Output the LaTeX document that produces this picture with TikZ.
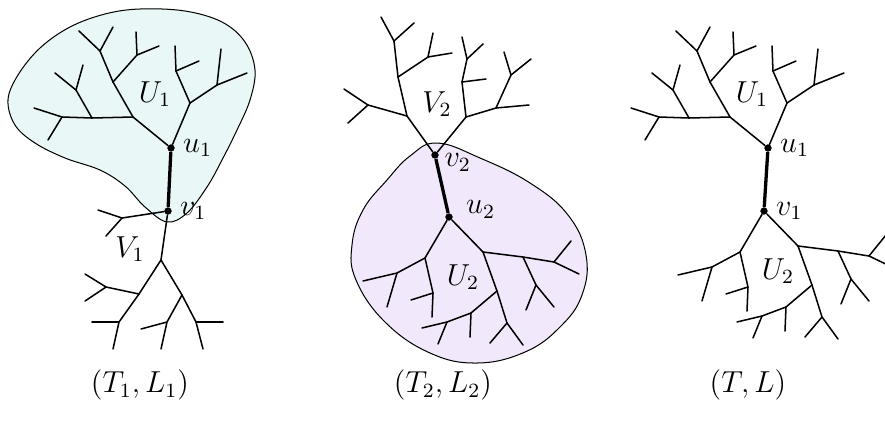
\documentclass[tikz,border=0pt]{standalone}
\usetikzlibrary{positioning}
\definecolor{blobcyan}{RGB}{233,248,247}
\definecolor{blobviolet}{RGB}{241,233,251}
\tikzset{
    branch/.style={semithick, line cap=round, line join=round},
    bridge/.style={line width=1.3pt},
    vertexdot/.style={circle, fill, inner sep=0pt, minimum size=2.8pt},
    vlabel/.style={inner sep=1pt, font=\large},
    partlabel/.style={inner sep=0pt, font=\large},
    caption/.style={font=\large},
    blob/.style={draw, thin},
}
% subtree U_1, hanging above its root #1 (use inside a scope shifted to #1)
\newcommand{\subtreeUone}[1]{
    \coordinate (#1a) at (-38,-31);  \coordinate (#1b) at (-79,-30);
    \coordinate (#1c) at (-109,-31); \coordinate (#1c1) at (-137,-40);
    \coordinate (#1c2) at (-123,-8); \coordinate (#1d) at (-95,-58);
    \coordinate (#1d1) at (-116,-75); \coordinate (#1d2) at (-88,-83);
    \coordinate (#1e) at (-58,-66);  \coordinate (#1f) at (-71,-97);
    \coordinate (#1f1) at (-92,-117); \coordinate (#1f2) at (-58,-121);
    \coordinate (#1g) at (-34,-93);  \coordinate (#1g1) at (-35,-116);
    \coordinate (#1g2) at (-12,-102); \coordinate (#1h) at (19,-45);
    \coordinate (#1i) at (5,-77);    \coordinate (#1i1) at (4,-102);
    \coordinate (#1i2) at (28,-87);  \coordinate (#1j) at (46,-63);
    \coordinate (#1j1) at (50,-99);  \coordinate (#1j2) at (76,-75);
    \draw[branch] (#1) -- (#1a);
    \draw[branch] (#1) -- (#1h);
    \foreach \p/\q in {a/b, b/c, c/c1, c/c2, b/d, d/d1, d/d2, a/e, e/f, f/f1, f/f2,
                       e/g, g/g1, g/g2, h/i, i/i1, i/i2, h/j, j/j1, j/j2}
        \draw[branch] (#1\p) -- (#1\q);
    \node[partlabel] (#1lab) at (-16,-54) {$U_1$};
}
% subtree U_2, hanging below its root #1
\newcommand{\subtreeUtwo}[1]{
    \coordinate (#1a) at (-24,41);   \coordinate (#1b) at (-52,56);
    \coordinate (#1b1) at (-86,64);  \coordinate (#1b2) at (-62,90);
    \coordinate (#1c) at (-16,76);   \coordinate (#1c1) at (-38,83);
    \coordinate (#1c2) at (-17,100); \coordinate (#1d) at (34,35);
    \coordinate (#1e) at (74,40);    \coordinate (#1f) at (105,45);
    \coordinate (#1f1) at (122,24);  \coordinate (#1f2) at (130,57);
    \coordinate (#1g) at (87,68);    \coordinate (#1g1) at (77,93);
    \coordinate (#1g2) at (105,90);  \coordinate (#1h) at (48,74);
    \coordinate (#1i) at (22,96);    \coordinate (#1i1) at (21,120);
    \coordinate (#1k) at (-2,105);   \coordinate (#1k1) at (-27,111);
    \coordinate (#1k2) at (-11,127); \coordinate (#1m) at (58,106);
    \coordinate (#1m1) at (41,126);  \coordinate (#1m2) at (74,128);
    \draw[branch] (#1) -- (#1a);
    \draw[branch] (#1) -- (#1d);
    \foreach \p/\q in {a/b, b/b1, b/b2, a/c, c/c1, c/c2, d/e, e/f, f/f1, f/f2,
                       e/g, g/g1, g/g2, d/h, h/i, i/i1, i/k, k/k1, k/k2, h/m, m/m1, m/m2}
        \draw[branch] (#1\p) -- (#1\q);
    \node[partlabel] (#1lab) at (14,60) {$U_2$};
}

\begin{document}
\begin{tikzpicture}[x=0.0139cm, y=-0.0139cm]
    \useasboundingbox (0,0) rectangle (885,421);

    % === (T_1, L_1) ===
    \draw[blob, fill=blobcyan] plot[smooth cycle, tension=0.6] coordinates {
        (140,9) (105,14) (70,27) (40,48) (18,75) (8,100) (15,125) (35,143)
        (65,158) (100,170) (125,186) (145,207) (167,222) (187,213) (207,187)
        (222,160) (237,130) (250,100) (255,70) (245,42) (222,22) (185,11)};

    \node[vertexdot] (u1) at (171,148) {};
    \node[vertexdot] (v1) at (168,211) {};
    \begin{scope}[shift={(u1)}]
        \subtreeUone{u1}
    \end{scope}
    % lower part V_1
    \begin{scope}[shift={(v1)}]
        \coordinate (v1p) at (-46,7);   \coordinate (v1p1) at (-70,-1);
        \coordinate (v1p2) at (-62,25); \coordinate (v1q) at (-7,49);
        \coordinate (v1r) at (-29,83);  \coordinate (v1s) at (-62,76);
        \coordinate (v1s1) at (-83,63); \coordinate (v1s2) at (-83,90);
        \coordinate (v1t) at (-49,111); \coordinate (v1t1) at (-76,111);
        \coordinate (v1t2) at (-55,138); \coordinate (v1w) at (14,84);
        \coordinate (v1x) at (-1,111);  \coordinate (v1x1) at (-27,118);
        \coordinate (v1x2) at (-7,138); \coordinate (v1y) at (28,111);
        \coordinate (v1y1) at (55,111); \coordinate (v1y2) at (35,138);
    \end{scope}
    \draw[branch] (v1) -- (v1p);
    \draw[branch] (v1) -- (v1q);
    \foreach \p/\q in {p/p1, p/p2, q/r, r/s, s/s1, s/s2, r/t, t/t1, t/t2,
                       q/w, w/x, x/x1, x/x2, w/y, y/y1, y/y2}
        \draw[branch] (v1\p) -- (v1\q);
    \node[partlabel] (v1part) at (130,249) {$V_1$};

    \draw[bridge] (u1) -- (v1);
    \node[vertexdot] at (u1) {};
    \node[vertexdot] at (v1) {};
    \node[vlabel, right=2pt of u1] (u1lab) {$u_1$};
    \node[vlabel, right=2pt of v1] (v1lab) {$v_1$};

    % === (T_2, L_2) ===
    \draw[blob, fill=blobviolet] plot[smooth cycle, tension=0.7] coordinates {
        (437,143) (480,158) (530,183) (568,215) (586,255) (582,295) (560,327)
        (525,352) (477,363) (430,353) (385,322) (356,280) (352,245) (363,210)
        (387,180) (410,156)};

    \node[vertexdot] (v2) at (435,155) {};
    \node[vertexdot] (u2) at (449,217) {};
    % upper part V_2
    \begin{scope}[shift={(v2)}]
        \coordinate (v2a) at (-28,-39);  \coordinate (v2b) at (-67,-50);
        \coordinate (v2b1) at (-91,-66); \coordinate (v2b2) at (-87,-32);
        \coordinate (v2c) at (-37,-78);  \coordinate (v2d) at (-41,-114);
        \coordinate (v2d1) at (-54,-138); \coordinate (v2d2) at (-21,-132);
        \coordinate (v2e) at (-7,-98);   \coordinate (v2e1) at (-2,-122);
        \coordinate (v2e2) at (17,-102); \coordinate (v2f) at (31,-38);
        \coordinate (v2g) at (27,-73);   \coordinate (v2g1) at (51,-76);
        \coordinate (v2h) at (32,-96);   \coordinate (v2h1) at (27,-118);
        \coordinate (v2h2) at (48,-111); \coordinate (v2i) at (61,-47);
        \coordinate (v2i1) at (94,-50);  \coordinate (v2j) at (76,-80);
        \coordinate (v2j1) at (69,-103); \coordinate (v2j2) at (96,-96);
    \end{scope}
    \draw[branch] (v2) -- (v2a);
    \draw[branch] (v2) -- (v2f);
    \foreach \p/\q in {a/b, b/b1, b/b2, a/c, c/d, d/d1, d/d2, c/e, e/e1, e/e2,
                       f/g, g/g1, g/h, h/h1, h/h2, f/i, i/i1, i/j, j/j1, j/j2}
        \draw[branch] (v2\p) -- (v2\q);
    \node[partlabel] (v2part) at (437,104) {$V_2$};

    \begin{scope}[shift={(u2)}]
        \subtreeUtwo{u2}
    \end{scope}

    \draw[bridge] (v2) -- (u2);
    \node[vertexdot] at (v2) {};
    \node[vertexdot] at (u2) {};
    \node[vlabel, right=1pt of v2, yshift=-3pt] (v2lab) {$v_2$};
    \node[vlabel, right=4pt of u2, yshift=3pt] (u2lab) {$u_2$};

    % === (T, L) ===
    \node[vertexdot] (tu1) at (768,148) {};
    \node[vertexdot] (tv1) at (764,211) {};
    \begin{scope}[shift={(tu1)}]
        \subtreeUone{tu1}
    \end{scope}
    \begin{scope}[shift={(tv1)}]
        \subtreeUtwo{tv1}
    \end{scope}
    \draw[bridge] (tu1) -- (tv1);
    \node[vertexdot] at (tu1) {};
    \node[vertexdot] at (tv1) {};
    \node[vlabel, right=2pt of tu1] (tu1lab) {$u_1$};
    \node[vlabel, right=2pt of tv1] (tv1lab) {$v_1$};

    % captions
    \node[caption] (cap1) at (140,385) {$(T_1,L_1)$};
    \node[caption] (cap2) at (443,385) {$(T_2,L_2)$};
    \node[caption] (cap3) at (748,385) {$(T,L)$};
\end{tikzpicture}
\end{document}
